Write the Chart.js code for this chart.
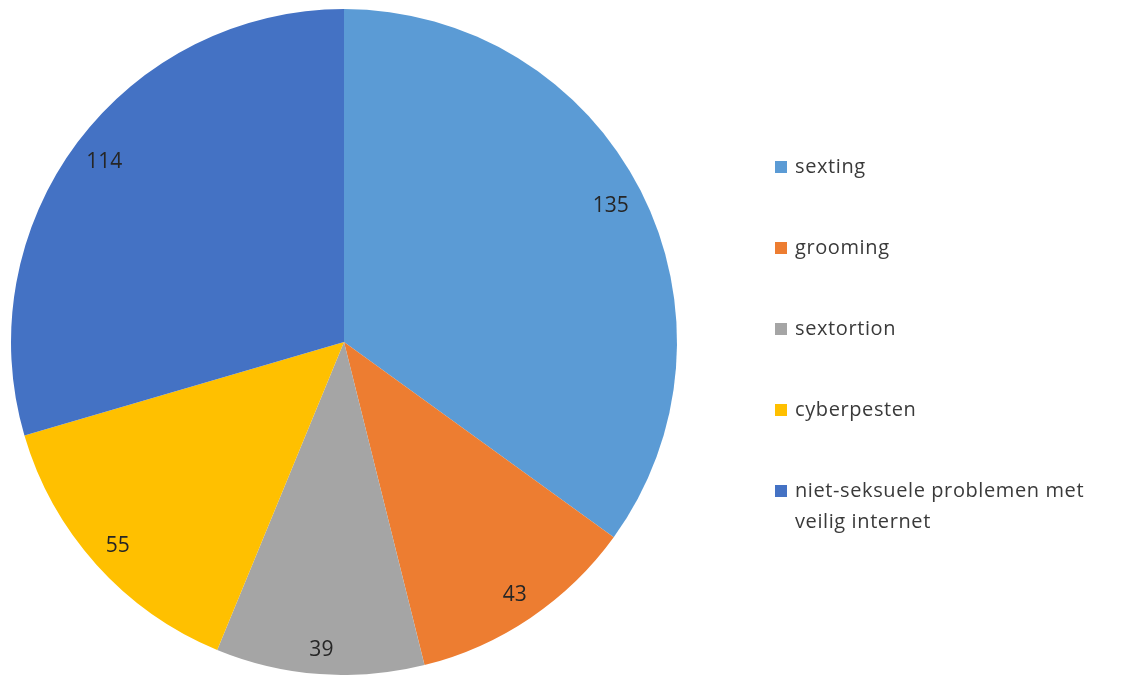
<!DOCTYPE html>
<html lang="nl">
<head>
    <meta charset="UTF-8">
    <title>Meldingen veilig internet</title>
    <script src="https://cdn.jsdelivr.net/npm/chart.js"></script>
    <style>
        body {
            margin: 0;
            background: #ffffff;
        }

        .wrap {
            width: 1125px;
            height: 675px;
            position: relative;
        }
    </style>
</head>
<body>
    <div class="wrap">
        <canvas id="pie-chart"></canvas>
    </div>

    <script>
        // Data
        const categories = ['sexting', 'grooming', 'sextortion', 'cyberpesten', 'niet-seksuele problemen met veilig internet'];
        const counts = [135, 43, 39, 55, 114];
        const sliceColors = ['#5B9BD5', '#ED7D31', '#A5A5A5', '#FFC000', '#4472C4'];

        const fontFamily = '"Open Sans", "Noto Sans", sans-serif';

        // Waarden binnen de rand van de taartpunten ("inside end")
        const sliceLabelPlugin = {
            id: 'sliceLabels',
            afterDatasetsDraw(chart) {
                const { ctx } = chart;
                const meta = chart.getDatasetMeta(0);
                ctx.save();
                ctx.fillStyle = '#262626';
                ctx.font = '21px ' + fontFamily;
                ctx.textAlign = 'center';
                ctx.textBaseline = 'middle';
                meta.data.forEach((arc, i) => {
                    const text = String(chart.data.datasets[0].data[i]);
                    const mid = (arc.startAngle + arc.endAngle) / 2;
                    const cx = Math.cos(mid), cy = Math.sin(mid);
                    const halfW = ctx.measureText(text).width / 2, halfH = 10;
                    const d = arc.outerRadius - 13 - (halfW * Math.abs(cx) + halfH * Math.abs(cy));
                    ctx.fillText(text, arc.x + cx * d, arc.y + cy * d);
                });
                ctx.restore();
            }
        };

        // Legenda rechts, zelf getekend
        const legendPlugin = {
            id: 'sideLegend',
            afterDraw(chart) {
                const { ctx } = chart;
                const boxX = 775, textX = 795, startY = 167, step = 81, lineH = 31, maxW = 300;
                ctx.save();
                ctx.font = '20px ' + fontFamily;
                ctx.letterSpacing = '0.6px';
                ctx.textBaseline = 'middle';
                let y = startY;
                chart.data.labels.forEach((label, i) => {
                    ctx.fillStyle = sliceColors[i];
                    ctx.fillRect(boxX, y - 6, 12, 12);

                    // eenvoudige woordafbreking
                    const words = label.split(' ');
                    const lines = [];
                    let line = '';
                    words.forEach(w => {
                        const test = line ? line + ' ' + w : w;
                        if (ctx.measureText(test).width > maxW && line) {
                            lines.push(line);
                            line = w;
                        } else {
                            line = test;
                        }
                    });
                    lines.push(line);

                    ctx.fillStyle = '#3a3a3a';
                    lines.forEach((l, j) => ctx.fillText(l, textX, y + j * lineH));
                    y += step;
                });
                ctx.restore();
            }
        };

        new Chart(document.getElementById('pie-chart'), {
            type: 'pie',
            data: {
                labels: categories,
                datasets: [{
                    data: counts,
                    backgroundColor: sliceColors,
                    borderWidth: 0
                }]
            },
            options: {
                responsive: true,
                maintainAspectRatio: false,
                animation: false,
                layout: {
                    padding: { left: 10, top: 9, right: 447, bottom: 0 }
                },
                plugins: {
                    legend: { display: false },
                    tooltip: { enabled: false }
                }
            },
            plugins: [sliceLabelPlugin, legendPlugin]
        });
    </script>
</body>
</html>
